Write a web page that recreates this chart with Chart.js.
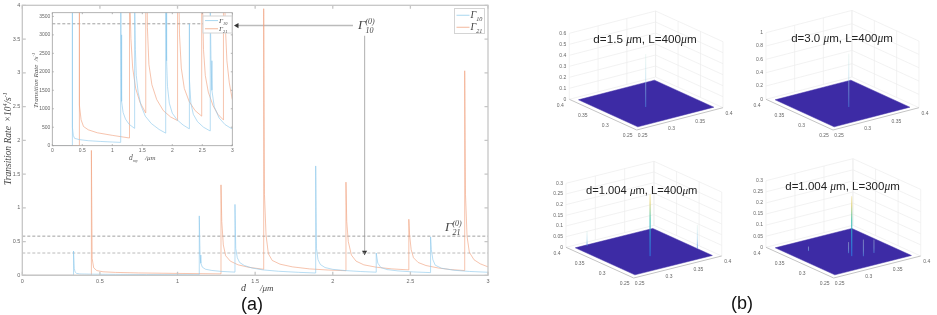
<!DOCTYPE html>
<html>
<head>
<meta charset="utf-8">
<script src="https://cdn.jsdelivr.net/npm/chart.js@4"></script>
<style>
  html, body { margin: 0; padding: 0; background: #fff; }
  body { width: 937px; height: 315px; overflow: hidden; position: relative; }
  canvas { position: absolute; filter: blur(0.35px); }
</style>
</head>
<body>
<canvas id="mainChart" width="500" height="315" style="left:0;top:0"></canvas>
<canvas id="insetChart" width="215" height="160" style="left:25px;top:5px"></canvas>
<canvas id="p1" width="205" height="145" style="left:530px;top:5px"></canvas>
<canvas id="p2" width="207" height="145" style="left:730px;top:5px"></canvas>
<canvas id="p3" width="205" height="145" style="left:530px;top:155px"></canvas>
<canvas id="p4" width="207" height="160" style="left:730px;top:155px"></canvas>
<script>
// values, rate in 1/s
const d10 = [0, .33, .33, .335, .34, .35, .37, .45, .6, .8, 1.0, 1.14,
  1.14, 1.145, 1.15, 1.16, 1.18, 1.22, 1.28, 1.37,
  1.37, 1.375, 1.385, 1.40, 1.43, 1.48, 1.55, 1.65, 1.78, 1.89,
  1.89, 1.895, 1.905, 1.92, 1.95, 2.0, 2.08, 2.18, 2.28,
  2.28, 2.29, 2.31, 2.35, 2.42, 2.52, 2.63,
  2.63, 2.635, 2.645, 2.66, 2.70, 2.78, 2.88, 3];
const rate10 = [0, 0, 3600, 1000, 500, 280, 200, 165, 135, 115, 100, 90,
  8800, 3000, 1800, 1200, 900, 720, 580, 470,
  10500, 4000, 2600, 1900, 1450, 1080, 800, 600, 440, 340,
  16200, 4000, 2300, 1600, 1150, 880, 700, 560, 460,
  3300, 1800, 1150, 850, 650, 500, 400,
  5700, 3800, 2300, 1500, 1050, 750, 570, 450];
const d21 = [0, .445, .445, .45, .46, .48, .52, .6, .75, 1.0, 1.28,
  1.28, 1.285, 1.295, 1.31, 1.34, 1.39, 1.46, 1.555,
  1.555, 1.56, 1.57, 1.585, 1.61, 1.66, 1.74, 1.85, 1.97, 2.085,
  2.085, 2.09, 2.1, 2.12, 2.15, 2.2, 2.28, 2.38, 2.49,
  2.49, 2.495, 2.505, 2.52, 2.55, 2.6, 2.68, 2.76, 2.85,
  2.85, 2.855, 2.865, 2.88, 2.91, 2.95, 3];
const rate21 = [0, 0, 18500, 2500, 1100, 700, 520, 430, 350, 280, 210,
  13400, 8000, 4500, 2900, 2100, 1550, 1180, 890,
  39500, 12000, 6000, 3200, 2200, 1650, 1250, 950, 780, 680,
  13800, 8000, 5000, 3000, 2100, 1550, 1200, 950, 800,
  8300, 6000, 3800, 2600, 1900, 1450, 1080, 850, 700,
  30300, 12000, 5800, 3400, 2300, 1700, 1250];
const gamma10zero = 3300;
const gamma21zero = 5800;

const mainXTicks = [0, 0.5, 1, 1.5, 2, 2.5, 3];
const mainYTicks = [0, 0.5, 1, 1.5, 2, 2.5, 3, 3.5, 4];
const insetXTicks = [0, 0.5, 1, 1.5, 2, 2.5, 3];
const insetYTicks = [0, 500, 1000, 1500, 2000, 2500, 3000, 3500];

// the four surface plots: spikes are [x, y, z]
const floorTicks = [0.25, 0.3, 0.35, 0.4];
const surfaceLow = 0.259, surfaceHigh = 0.391;
const spikes1 = [[.316, .3145, .48]];
const spikes2 = [[.3235, .309, .8]];
const spikes3 = [[.321, .306, .29], [.2764, .3877, .07], [.3915, .2929, .11]];
const spikes4 = [[.3234, .3043, .27], [.336, .2947, .075], [.3556, .2965, .06], [.327, .316, .05], [.288, .3547, .02]];
const zTicks1 = [0, .1, .2, .3, .4, .5, .6];
const zTicks2 = [0, .2, .4, .6, .8, 1];
const zTicks3 = [0, .05, .1, .15, .2, .25, .3];
const zTicks4 = [0, .05, .1, .15, .2, .25, .3];

const BLUE = 'rgba(140,200,235,0.62)';
const ORANGE = 'rgba(240,160,125,0.62)';
const SERIF = '"Liberation Serif"';
const SANS = '"Liberation Sans"';

function zip(xs, ys, k) {
    return xs.map((x, i) => ({ x: x, y: ys[i] * k }));
}

// text made of differently styled pieces, parts = [text, font, dy]
function seq(ctx, x, y, parts, center) {
    ctx.textAlign = 'left';
    ctx.textBaseline = 'alphabetic';
    let w = 0;
    parts.forEach(p => { ctx.font = p[1]; w += ctx.measureText(p[0]).width; });
    let cx = center ? x - w / 2 : x;
    parts.forEach(p => {
        ctx.font = p[1];
        ctx.fillText(p[0], cx, y + (p[2] || 0));
        cx += ctx.measureText(p[0]).width;
    });
}

function gammaLabel(ctx, x, y, sub, sup, size) {
    ctx.fillStyle = '#444';
    ctx.textAlign = 'left';
    ctx.textBaseline = 'alphabetic';
    ctx.font = 'italic ' + size + 'px ' + SERIF;
    ctx.fillText('Γ', x, y);
    const w = ctx.measureText('Γ').width;
    ctx.font = 'italic ' + (size * 0.62) + 'px ' + SERIF;
    ctx.fillText(sub, x + w, y + size * 0.32);
    if (sup) ctx.fillText(sup, x + w, y - size * 0.42);
}

function frame(chart, color, width, tick) {
    const a = chart.chartArea, c = chart.ctx;
    c.save();
    c.strokeStyle = color;
    c.lineWidth = width;
    c.strokeRect(a.left, a.top, a.right - a.left, a.bottom - a.top);
    c.beginPath();
    chart.scales.x.ticks.forEach(t => {
        const px = chart.scales.x.getPixelForValue(t.value);
        c.moveTo(px, a.bottom); c.lineTo(px, a.bottom - tick);
        c.moveTo(px, a.top); c.lineTo(px, a.top + tick);
    });
    chart.scales.y.ticks.forEach(t => {
        const py = chart.scales.y.getPixelForValue(t.value);
        c.moveTo(a.left, py); c.lineTo(a.left + tick, py);
        c.moveTo(a.right, py); c.lineTo(a.right - tick, py);
    });
    c.stroke();
    c.restore();
}

function legendBox(c, x, y, w, h, size) {
    c.strokeStyle = '#d4d4d4';
    c.lineWidth = 1;
    c.fillStyle = '#fff';
    c.fillRect(x, y, w, h);
    c.strokeRect(x, y, w, h);
    const y1 = y + h * 0.27, y2 = y + h * 0.75;
    c.lineWidth = 1;
    c.strokeStyle = '#a9d7ef';
    c.beginPath(); c.moveTo(x + 2, y1); c.lineTo(x + 15, y1); c.stroke();
    c.strokeStyle = '#f3b89d';
    c.beginPath(); c.moveTo(x + 2, y2); c.lineTo(x + 15, y2); c.stroke();
    gammaLabel(c, x + 16, y1 + 2.5, '10', null, size);
    gammaLabel(c, x + 16, y2 + 2.5, '21', null, size);
}

function baseScale(ticks, min, max, size, padding, fontSize) {
    return {
        type: 'linear', min: min, max: max,
        afterFit: s => { if (s.isHorizontal()) s.height = size; else s.width = size; },
        afterBuildTicks: s => { s.ticks = ticks.map(v => ({ value: v })); },
        border: { display: false },
        grid: { display: false, drawTicks: false },
        ticks: {
            padding: padding, maxRotation: 0, autoSkip: false, color: '#666',
            font: { family: SANS, size: fontSize },
            callback: v => String(v)
        }
    };
}

const baseOptions = {
    responsive: false,
    animation: false,
    events: [],
    plugins: { legend: { display: false }, tooltip: { enabled: false } }
};

// main plot
new Chart(document.getElementById('mainChart'), {
    type: 'scatter',
    data: {
        datasets: [
            { data: zip(d10, rate10, 1e-4), showLine: true, borderColor: BLUE, borderWidth: 1, pointRadius: 0 },
            { data: zip(d21, rate21, 1e-4), showLine: true, borderColor: ORANGE, borderWidth: 1, pointRadius: 0 },
            { data: [{ x: 0, y: gamma21zero / 1e4 }, { x: 3, y: gamma21zero / 1e4 }], showLine: true, borderColor: '#888', borderWidth: 0.8, borderDash: [3, 2], pointRadius: 0 },
            { data: [{ x: 0, y: gamma10zero / 1e4 }, { x: 3, y: gamma10zero / 1e4 }], showLine: true, borderColor: '#aaa', borderWidth: 0.8, borderDash: [3, 2], pointRadius: 0 },
            // arrows from the labels
            { data: [{ x: 1.383, y: 3.70 }, { x: 2.13, y: 3.70 }], showLine: true, borderColor: '#bbb', borderWidth: 1.5,
              pointStyle: 'triangle', pointRadius: [3, 0], pointRotation: -90, pointBackgroundColor: '#333', pointBorderWidth: 0 },
            { data: [{ x: 2.205, y: 3.55 }, { x: 2.205, y: 0.34 }], showLine: true, borderColor: '#bbb', borderWidth: 1.2,
              pointStyle: 'triangle', pointRadius: [0, 3], pointRotation: 180, pointBackgroundColor: '#333', pointBorderWidth: 0 }
        ]
    },
    options: Object.assign({}, baseOptions, {
        layout: { padding: { top: 4.5, right: 12, left: 0, bottom: 0 } },
        scales: {
            x: baseScale(mainXTicks, 0, 3, 39.7, 3, 5.5),
            y: baseScale(mainYTicks, 0, 4, 22.3, 2, 5.5)
        }
    }),
    plugins: [{
        id: 'mainDeco',
        afterDraw(chart) {
            const c = chart.ctx;
            frame(chart, '#c6c6c6', 1.3, 3.5);
            c.save();
            legendBox(c, 454.5, 8.5, 30, 25, 10);
            gammaLabel(c, 358, 29, '10', '(0)', 13);
            gammaLabel(c, 445, 231, '21', '(0)', 13);
            c.fillStyle = '#444';
            c.save();
            c.translate(11, 185);
            c.rotate(-Math.PI / 2);
            const it = 'italic 9.5px ' + SERIF;
            seq(c, 0, 0, [['Transition Rate  ', it], ['×', '9.5px ' + SERIF], ['10', it], ['4', 'italic 6px ' + SERIF, -4], ['/s', it], ['-1', 'italic 6px ' + SERIF, -4]]);
            c.restore();
            seq(c, 241, 291, [['d', 'italic 10px ' + SERIF]]);
            seq(c, 260, 291, [['/μm', 'italic 9px ' + SERIF]]);
            c.fillStyle = '#111';
            c.textAlign = 'center';
            c.textBaseline = 'middle';
            c.font = '18px ' + SANS;
            c.fillText('(a)', 252, 305);
            c.restore();
        }
    }]
});

// inset, same values zoomed on the low rates
new Chart(document.getElementById('insetChart'), {
    type: 'scatter',
    data: {
        datasets: [
            { data: zip(d10, rate10, 1), showLine: true, borderColor: BLUE, borderWidth: 1, pointRadius: 0 },
            { data: zip(d21, rate21, 1), showLine: true, borderColor: ORANGE, borderWidth: 1, pointRadius: 0 },
            { data: [{ x: 0, y: gamma10zero }, { x: 3, y: gamma10zero }], showLine: true, borderColor: '#888', borderWidth: 0.8, borderDash: [3, 2], pointRadius: 0 }
        ]
    },
    options: Object.assign({}, baseOptions, {
        layout: { padding: { top: 7.7, right: 7.7, left: 0, bottom: 0 } },
        scales: {
            x: baseScale(insetXTicks, 0, 3, 19.3, 2, 5),
            y: baseScale(insetYTicks, 0, 3600, 27.3, 2, 5)
        }
    }),
    plugins: [{
        id: 'insetDeco',
        afterDraw(chart) {
            const c = chart.ctx;
            frame(chart, '#a0a0a0', 0.8, 1.5);
            c.save();
            legendBox(c, 178, 11, 29, 17, 7);
            c.fillStyle = '#555';
            c.save();
            c.translate(12.5, 103);
            c.rotate(-Math.PI / 2);
            const it = 'italic 7px ' + SERIF;
            seq(c, 0, 0, [['Transition Rate  /s', it], ['-1', 'italic 4.5px ' + SERIF, -3]]);
            c.restore();
            seq(c, 104, 155, [['d', 'italic 7.5px ' + SERIF], ['my', 'italic 4.5px ' + SERIF, 2], ['    /μm', 'italic 7px ' + SERIF]]);
            c.restore();
        }
    }]
});

// one surface panel, the box corners are in page pixels
function surfacePanel(id, ox, oy, box, height, zTicks, spikes, title, faint) {
    const canvas = document.getElementById(id);
    const zMax = zTicks[zTicks.length - 1];
    const project = (x, y, z) => {
        const u = (x - 0.25) / 0.15, v = (y - 0.25) / 0.15;
        return {
            x: box.bottom[0] + u * (box.right[0] - box.bottom[0]) + v * (box.left[0] - box.bottom[0]),
            y: box.bottom[1] + u * (box.right[1] - box.bottom[1]) + v * (box.left[1] - box.bottom[1]) - z / zMax * height
        };
    };
    const lines = [];
    const seg = (a, b) => { lines.push(project(a[0], a[1], a[2]), project(b[0], b[1], b[2]), { x: null, y: null }); };
    floorTicks.forEach(t => {
        seg([t, .4, 0], [t, .4, zMax]);
        seg([.4, t, 0], [.4, t, zMax]);
    });
    zTicks.forEach(z => {
        seg([.25, .4, z], [.4, .4, z]);
        seg([.4, .4, z], [.4, .25, z]);
    });

    const floorEdge = [project(.25, .4, 0), project(.25, .25, 0), project(.4, .25, 0)];
    const surface = [project(surfaceLow, surfaceLow, 0), project(surfaceHigh, surfaceLow, 0),
        project(surfaceHigh, surfaceHigh, 0), project(surfaceLow, surfaceHigh, 0), project(surfaceLow, surfaceLow, 0)];
    const tallest = Math.max(...spikes.map(s => s[2]));

    const spikeSets = spikes.map(s => ({
        data: [project(s[0], s[1], 0), project(s[0], s[1], s[2])],
        showLine: true, pointRadius: 0, borderWidth: 1, order: 0,
        borderColor: ctx => {
            // the panel scales are one data unit per pixel
            const y0 = project(s[0], s[1], 0).y - oy, y1 = project(s[0], s[1], s[2]).y - oy;
            const g = ctx.chart.ctx.createLinearGradient(0, y0, 0, y1);
            if (faint || s[2] < tallest) {
                g.addColorStop(0, 'rgba(70,130,220,0.7)');
                g.addColorStop(0.4, 'rgba(150,205,235,0.55)');
                g.addColorStop(1, 'rgba(210,235,225,0.4)');
            } else {
                g.addColorStop(0, '#2f6fe0');
                g.addColorStop(0.35, '#2aa5d8');
                g.addColorStop(0.6, '#35c0a5');
                g.addColorStop(0.85, '#e0d070');
                g.addColorStop(1, '#f5ecc0');
            }
            return g;
        }
    }));

    new Chart(canvas, {
        type: 'scatter',
        data: {
            datasets: spikeSets.concat([
                { data: surface, showLine: true, fill: 'shape', backgroundColor: '#3d2ba5', borderColor: '#3d2ba5', borderWidth: 0.5, pointRadius: 0, order: 1 },
                { data: floorEdge, showLine: true, borderColor: '#c4c4c4', borderWidth: 1, pointRadius: 0, order: 2 },
                { data: lines, showLine: true, spanGaps: false, borderColor: '#ececec', borderWidth: 0.7, pointRadius: 0, order: 3 }
            ])
        },
        options: Object.assign({}, baseOptions, {
            scales: {
                x: { display: false, min: ox, max: ox + canvas.width },
                y: { display: false, min: oy, max: oy + canvas.height, reverse: true }
            }
        }),
        plugins: [{
            id: 'panelDeco',
            afterDraw(chart) {
                const c = chart.ctx;
                c.save();
                c.fillStyle = '#666';
                c.font = '5px ' + SANS;
                c.textBaseline = 'middle';
                c.textAlign = 'right';
                zTicks.forEach(z => {
                    const p = project(.25, .4, z);
                    c.fillText(String(z), p.x - ox - 3, p.y - oy);
                });
                c.textAlign = 'center';
                floorTicks.forEach(t => {
                    const a = project(.25, t, 0), b = project(t, .25, 0);
                    c.fillText(String(t), a.x - ox - 9, a.y - oy + 6);
                    c.fillText(String(t), b.x - ox + 6, b.y - oy + 6);
                });
                c.fillStyle = '#222';
                const tf = title.size + 'px ' + SANS, mu = 'italic ' + title.size + 'px ' + SERIF;
                seq(c, title.x - ox, title.y - oy + 4.5, [[title.head + ' ', tf], ['μ', mu], ['m, ' + title.tail, tf], ['μ', mu], ['m', tf]], true);
                if (title.caption) {
                    c.fillStyle = '#111';
                    c.textAlign = 'center';
                    c.textBaseline = 'middle';
                    c.font = '18px ' + SANS;
                    c.fillText(title.caption, 742 - ox, 304 - oy);
                }
                c.restore();
            }
        }]
    });
}

surfacePanel('p1', 530, 5, { left: [569.3, 99.3], bottom: [636.7, 130], right: [723, 107.7] }, 66, zTicks1, spikes1,
    { x: 645, y: 38, size: 11.7, head: 'd=1.5', tail: 'L=400' }, true);
surfacePanel('p2', 730, 5, { left: [766, 99.3], bottom: [833, 130], right: [919, 107.7] }, 66.6, zTicks2, spikes2,
    { x: 842, y: 37, size: 11.5, head: 'd=3.0', tail: 'L=400' }, true);
surfacePanel('p3', 530, 155, { left: [566, 247.3], bottom: [633.7, 278], right: [721.7, 256] }, 64, zTicks3, spikes3,
    { x: 641.7, y: 189, size: 11.2, head: 'd=1.004', tail: 'L=400' }, false);
surfacePanel('p4', 730, 155, { left: [766, 247.3], bottom: [833.7, 278], right: [920.7, 256] }, 66.6, zTicks4, spikes4,
    { x: 842.5, y: 185, size: 11.5, head: 'd=1.004', tail: 'L=300', caption: '(b)' }, false);
</script>
</body>
</html>
